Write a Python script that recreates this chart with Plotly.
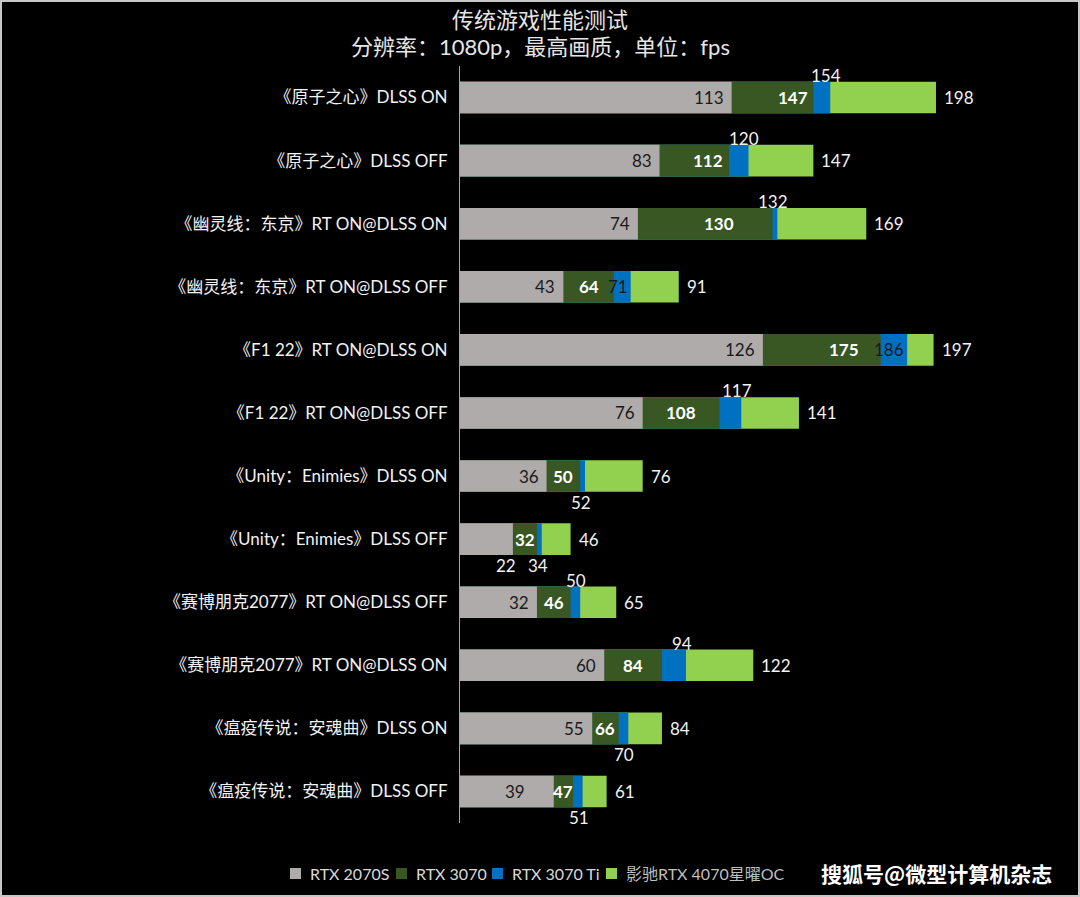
import plotly.graph_objects as go

categories = [
    "《原子之心》DLSS ON",
    "《原子之心》DLSS OFF",
    "《幽灵线：东京》RT ON@DLSS ON",
    "《幽灵线：东京》RT ON@DLSS OFF",
    "《F1 22》RT ON@DLSS ON",
    "《F1 22》RT ON@DLSS OFF",
    "《Unity：Enimies》DLSS ON",
    "《Unity：Enimies》DLSS OFF",
    "《赛博朋克2077》RT ON@DLSS OFF",
    "《赛博朋克2077》RT ON@DLSS ON",
    "《瘟疫传说：安魂曲》DLSS ON",
    "《瘟疫传说：安魂曲》DLSS OFF",
]
rtx2070s = [113, 83, 74, 43, 126, 76, 36, 22, 32, 60, 55, 39]
rtx3070 = [147, 112, 130, 64, 175, 108, 50, 32, 46, 84, 66, 47]
rtx3070ti = [154, 120, 132, 71, 186, 117, 52, 34, 50, 94, 70, 51]
rtx4070 = [198, 147, 169, 91, 197, 141, 76, 46, 65, 122, 84, 61]

series_names = ["RTX 2070S", "RTX 3070", "RTX 3070 Ti", "影驰RTX 4070星曜OC"]
title_line1 = "传统游戏性能测试"
title_line2 = "分辨率：1080p，最高画质，单位：fps"
watermark = "搜狐号@微型计算机杂志"

# ---- styling (not data) ----
C2070 = "#AFABAB"
C3070 = "#385723"
CTI = "#0070C0"
C4070 = "#92D050"
series_colors = [C2070, C3070, CTI, C4070]
FONT = "Lato, 'Noto Sans CJK SC', sans-serif"
TXT = "#f2f2f2"

W, H = 1080, 897
ML, MR, MT, MB = 460, 19, 66, 74
PW, PH = W - ML - MR, H - MT - MB


def px2x(px):
    return (px - ML) / PW


def px2y(py):
    return (H - MB - py) / PH


ti_label_pos = ["above", "above", "above", "inside", "inside", "above",
                "below", "below", "above", "above", "below", "below"]
label2070_below = {7}
label2070_shift = {11: -21}
label3070_shift = {0: 20, 1: 14, 2: 14, 4: 22}
legend_square_px = [290, 396, 492, 606]
legend_text_colors = ["#d9d9d9", "#d9d9d9", "#d9d9d9", "#bfbfbf"]

fig = go.Figure()
order = [(rtx4070, C4070, series_names[3]),
         (rtx3070ti, CTI, series_names[2]),
         (rtx3070, C3070, series_names[1]),
         (rtx2070s, C2070, series_names[0])]
for vals, col, name in order:
    fig.add_trace(go.Bar(
        y=categories, x=vals, orientation="h", name=name,
        marker=dict(color=col, line=dict(width=0)),
        width=0.5, hoverinfo="x+name", showlegend=False,
    ))

ann = []
for i, cat in enumerate(categories):
    # RTX 2070S
    if i in label2070_below:
        ann.append(dict(x=rtx2070s[i], y=cat, text=str(rtx2070s[i]), xanchor="center",
                        yanchor="middle", xshift=-7, yshift=-26,
                        font=dict(size=17, color=TXT, family=FONT), showarrow=False))
    else:
        ann.append(dict(x=rtx2070s[i], y=cat, text=str(rtx2070s[i]), xanchor="right",
                        yanchor="middle", xshift=-6 + label2070_shift.get(i, 0),
                        font=dict(size=17, color="#1a1a1a", family=FONT), showarrow=False))
    # RTX 3070 (bold white, in its own segment)
    ann.append(dict(x=(rtx2070s[i] + rtx3070[i]) / 2, y=cat, text="<b>%d</b>" % rtx3070[i],
                    xanchor="center", yanchor="middle", xshift=label3070_shift.get(i, 0),
                    font=dict(size=17, color="#ffffff", family=FONT), showarrow=False))
    # RTX 3070 Ti
    p = ti_label_pos[i]
    if p == "inside":
        ann.append(dict(x=rtx3070ti[i], y=cat, text=str(rtx3070ti[i]), xanchor="right",
                        yanchor="middle", xshift=-1,
                        font=dict(size=17, color="#1a1a1a", family=FONT), showarrow=False))
    else:
        ann.append(dict(x=rtx3070ti[i], y=cat, text=str(rtx3070ti[i]), xanchor="center",
                        yanchor="middle", xshift=-4, yshift=22 if p == "above" else -26,
                        font=dict(size=17, color=TXT, family=FONT), showarrow=False))
    # RTX 4070
    ann.append(dict(x=rtx4070[i], y=cat, text=str(rtx4070[i]), xanchor="left",
                    yanchor="middle", xshift=6,
                    font=dict(size=17, color=TXT, family=FONT), showarrow=False))

# subtitle line
ann.append(dict(xref="paper", yref="paper", x=px2x(540), y=px2y(47), text=title_line2,
                showarrow=False, xanchor="center", yanchor="middle",
                font=dict(size=22, color="#e6e6e6", family=FONT)))

# watermark
ann.append(dict(xref="paper", yref="paper", x=px2x(936), y=px2y(873),
                text="<b>%s</b>" % watermark, showarrow=False, xanchor="center",
                yanchor="middle", font=dict(size=21, color="#ffffff", family="'Noto Sans CJK SC'")))

shapes = [dict(type="rect", xref="paper", yref="paper",
               x0=px2x(1), x1=px2x(W - 1), y0=px2y(H - 1), y1=px2y(1),
               line=dict(color="#c8c8c8", width=2), fillcolor="rgba(0,0,0,0)", layer="above")]

# legend (squares + text)
for name, col, tcol, sx in zip(series_names, series_colors, legend_text_colors, legend_square_px):
    shapes.append(dict(type="rect", xref="paper", yref="paper",
                       x0=px2x(sx), x1=px2x(sx + 11), y0=px2y(879), y1=px2y(868),
                       fillcolor=col, line=dict(width=0), layer="above"))
    ann.append(dict(xref="paper", yref="paper", x=px2x(sx + 18), y=px2y(873), text=name,
                    showarrow=False, xanchor="left", yanchor="middle",
                    font=dict(size=16, color=tcol, family=FONT)))

fig.update_layout(
    width=W, height=H,
    paper_bgcolor="#000000", plot_bgcolor="#000000",
    margin=dict(l=ML, r=MR, t=MT, b=MB),
    barmode="overlay", bargap=0.5,
    font=dict(family=FONT, color=TXT, size=17),
    title=dict(text=title_line1,
               x=0.5, xref="container", xanchor="center",
               y=1 - 20 / H, yref="container", yanchor="middle",
               font=dict(size=22, color="#e6e6e6", family=FONT)),
    xaxis=dict(range=[0, 250], visible=False, showgrid=False, zeroline=False),
    yaxis=dict(autorange="reversed", showline=True, linecolor="#a6a6a6", linewidth=1,
               ticks="", showgrid=False, zeroline=False, ticklabelstandoff=8,
               tickfont=dict(size=17, color="#f2f2f2", family=FONT)),
    showlegend=False,
    annotations=ann, shapes=shapes,
)

fig.write_html("out.html", post_script="document.body.style.margin='0';",
               config={"displayModeBar": False})
